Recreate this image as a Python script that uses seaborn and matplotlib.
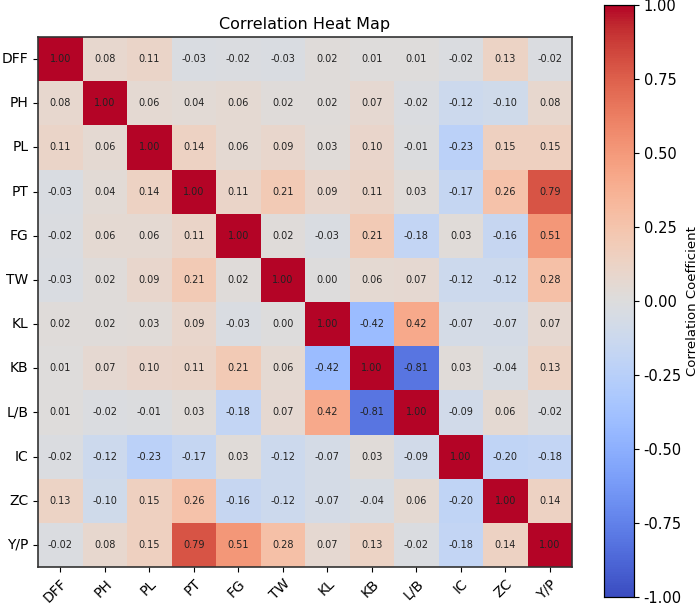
import matplotlib
matplotlib.use("Agg")
import matplotlib.pyplot as plt
import seaborn as sns
import numpy as np
import pandas as pd

labels = ["DFF", "PH", "PL", "PT", "FG", "TW", "KL", "KB", "L/B", "IC", "ZC", "Y/P"]

row_DFF = [1.00, 0.08, 0.11, -0.03, -0.02, -0.03, 0.02, 0.01, 0.01, -0.02, 0.13, -0.02]
row_PH = [0.08, 1.00, 0.06, 0.04, 0.06, 0.02, 0.02, 0.07, -0.02, -0.12, -0.10, 0.08]
row_PL = [0.11, 0.06, 1.00, 0.14, 0.06, 0.09, 0.03, 0.10, -0.01, -0.23, 0.15, 0.15]
row_PT = [-0.03, 0.04, 0.14, 1.00, 0.11, 0.21, 0.09, 0.11, 0.03, -0.17, 0.26, 0.79]
row_FG = [-0.02, 0.06, 0.06, 0.11, 1.00, 0.02, -0.03, 0.21, -0.18, 0.03, -0.16, 0.51]
row_TW = [-0.03, 0.02, 0.09, 0.21, 0.02, 1.00, 0.00, 0.06, 0.07, -0.12, -0.12, 0.28]
row_KL = [0.02, 0.02, 0.03, 0.09, -0.03, 0.00, 1.00, -0.42, 0.42, -0.07, -0.07, 0.07]
row_KB = [0.01, 0.07, 0.10, 0.11, 0.21, 0.06, -0.42, 1.00, -0.81, 0.03, -0.04, 0.13]
row_LB = [0.01, -0.02, -0.01, 0.03, -0.18, 0.07, 0.42, -0.81, 1.00, -0.09, 0.06, -0.02]
row_IC = [-0.02, -0.12, -0.23, -0.17, 0.03, -0.12, -0.07, 0.03, -0.09, 1.00, -0.20, -0.18]
row_ZC = [0.13, -0.10, 0.15, 0.26, -0.16, -0.12, -0.07, -0.04, 0.06, -0.20, 1.00, 0.14]
row_YP = [-0.02, 0.08, 0.15, 0.79, 0.51, 0.28, 0.07, 0.13, -0.02, -0.18, 0.14, 1.00]

rows = [row_DFF, row_PH, row_PL, row_PT, row_FG, row_TW, row_KL, row_KB,
        row_LB, row_IC, row_ZC, row_YP]
df = pd.DataFrame(rows, index=labels, columns=labels)

fig = plt.figure(figsize=(6.99, 6.05), dpi=100)
ax = fig.add_axes([38/699, 38/605, 534/699, 530/605])
cax = fig.add_axes([604/699, 8/605, 30/699, 592/605])

sns.heatmap(df, ax=ax, cbar_ax=cax, cmap="coolwarm", vmin=-1, vmax=1,
            annot=True, fmt=".2f", annot_kws={"size": 7, "color": "#222222"},
            square=False)

for s in ax.spines.values():
    s.set_visible(True)
    s.set_linewidth(1.2)
    s.set_color("#333333")

ax.set_title("Correlation Heat Map", fontsize=11.5, pad=6)
ax.tick_params(axis="both", which="both", length=3.5, width=0.8, labelsize=10)
ax.set_xticklabels(labels, rotation=45, ha="right", rotation_mode="anchor")
ax.set_yticklabels(labels, rotation=0)

ticks = [-1, -0.75, -0.5, -0.25, 0, 0.25, 0.5, 0.75, 1]
cax.set_yticks(ticks)
cax.set_yticklabels([f"{v:.2f}" for v in ticks])
cax.tick_params(labelsize=10.5, length=3.5)
cax.set_ylabel("Correlation Coefficient", fontsize=9.5, labelpad=3)
for s in cax.spines.values():
    s.set_visible(True)
    s.set_linewidth(0.8)

fig.savefig("out.png", dpi=100)
